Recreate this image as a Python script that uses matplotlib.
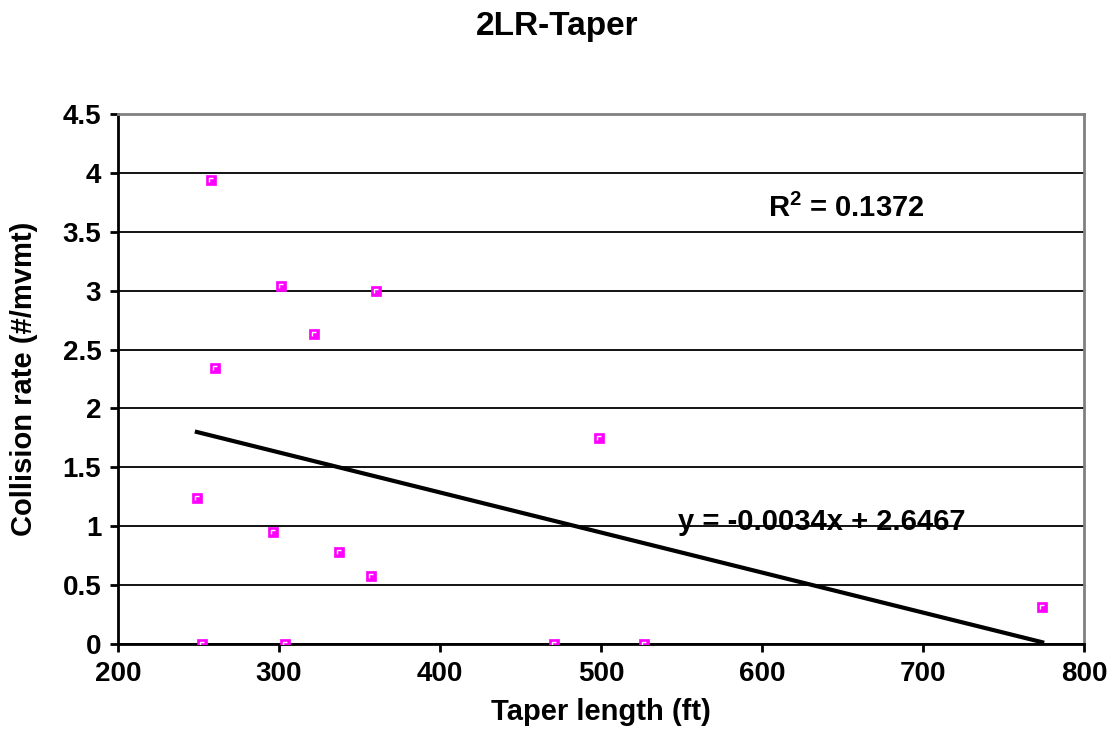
import matplotlib
matplotlib.use("Agg")
import matplotlib.pyplot as plt
from matplotlib.path import Path
import numpy as np

taper_length = [258, 301, 360, 322, 260, 499, 249, 296, 337, 357, 774, 252, 304, 471, 527]
collision_rate = [3.94, 3.04, 3.00, 2.63, 2.34, 1.75, 1.24, 0.95, 0.78, 0.58, 0.31, 0.0, 0.0, 0.0, 0.0]
slope = -0.0034
intercept = 2.6467
r2_text = "R$^\\mathregular{2}$ = 0.1372"
eq_text = "y = -0.0034x + 2.6467"
x_ticks = [200, 300, 400, 500, 600, 700, 800]
y_ticks = [0, 0.5, 1, 1.5, 2, 2.5, 3, 3.5, 4, 4.5]
y_tick_labels = ["0", "0.5", "1", "1.5", "2", "2.5", "3", "3.5", "4", "4.5"]

plt.rcParams['font.family'] = ['Liberation Sans', 'DejaVu Sans']
plt.rcParams['font.weight'] = 'bold'

W, H = 1114, 749
fig = plt.figure(figsize=(W / 100, H / 100), dpi=100)
ax = fig.add_axes([0.1059, 0.1402, 0.8672, 0.7076])

ax.set_xlim(200, 800)
ax.set_ylim(0, 4.5)
ax.set_xticks(x_ticks)
ax.set_yticks(y_ticks)
ax.set_yticklabels(y_tick_labels)
ax.grid(axis='y', color='black', linewidth=1.3)
ax.set_axisbelow(True)

for s in ['top', 'right']:
    ax.spines[s].set_color('#808080')
    ax.spines[s].set_linewidth(2)
for s in ['left', 'bottom']:
    ax.spines[s].set_color('black')
    ax.spines[s].set_linewidth(2)

ax.tick_params(axis='both', direction='out', length=6, width=2, labelsize=20, pad=6)
for lbl in ax.get_xticklabels() + ax.get_yticklabels():
    lbl.set_fontweight('bold')

ax.plot(taper_length, collision_rate, linestyle='none', marker='s', markersize=7.5,
        markerfacecolor='#FF00FF', markeredgecolor='#FF00FF', markeredgewidth=0.5, zorder=3)
corner = Path([(0.5, 0.5), (-0.24, -0.22), (-0.24, 0.24), (0.22, 0.24)],
              [Path.MOVETO, Path.MOVETO, Path.LINETO, Path.LINETO])
ax.plot(taper_length, collision_rate, linestyle='none', marker=corner, markersize=7.5,
        markerfacecolor='none', markeredgecolor='white', markeredgewidth=1.0, zorder=4)

xs = np.array([min(taper_length), max(taper_length)])
ax.plot(xs, slope * xs + intercept, color='black', linewidth=3, zorder=2)

ax.text(846, H - 208, r2_text, transform=None, fontsize=21, fontweight='bold', ha='center', va='center')
ax.text(822, H - 522, eq_text, transform=None, fontsize=21, fontweight='bold', ha='center', va='center')

ax.set_xlabel('Taper length (ft)', fontsize=21, fontweight='bold', labelpad=8)
ax.set_ylabel('Collision rate (#/mvmt)', fontsize=21, fontweight='bold', labelpad=18)
fig.suptitle('2LR-Taper', fontsize=24, fontweight='bold', y=0.985)

fig.savefig('out.png', dpi=100)
